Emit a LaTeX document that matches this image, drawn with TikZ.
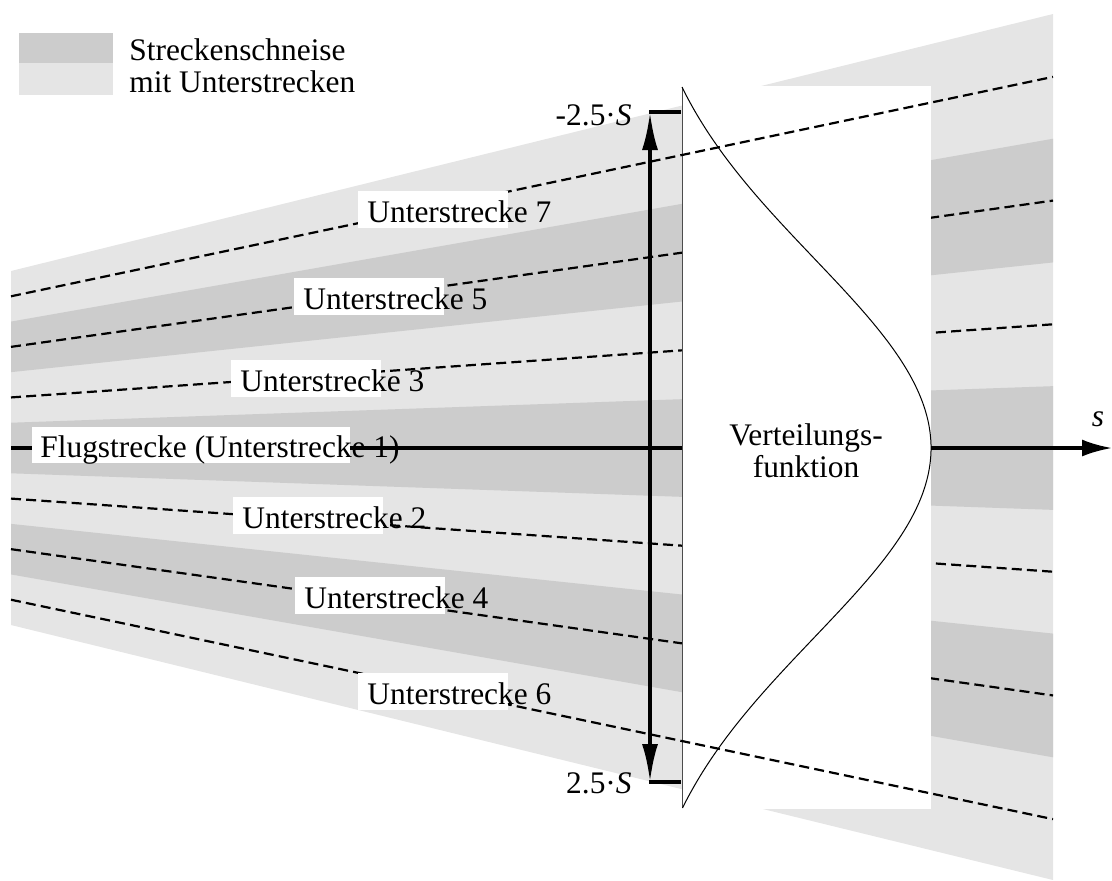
\documentclass[tikz,border=0pt]{standalone}
\usepackage{fontspec}
\setmainfont{Liberation Serif}
\usepackage{tikz}
\usetikzlibrary{arrows.meta}
\definecolor{bandlight}{RGB}{229,229,229}
\definecolor{banddark}{RGB}{204,204,204}

\begin{document}
\begin{tikzpicture}[x=0.5pt,y=-0.5pt,
    font=\fontsize{15.7}{16}\selectfont,
    sub/.style={line width=1.1pt, dash pattern=on 5pt off 2.6pt},
    lbl/.style={anchor=base west, inner sep=0pt},
    bigtip/.style={line width=2pt, {Latex[length=19pt,width=8pt]}-{Latex[length=19pt,width=8pt]}}]
    \useasboundingbox (0,0) rectangle (1112,880);
    \fill[bandlight] (11,271) -- (1053,14) -- (1053,880) -- (11,625) -- cycle;
    \foreach \k in {-2,0,2} {
        \fill[banddark] (11,{448+(2*\k-1)*177/7}) -- (1053,{448+(2*\k-1)*433/7})
            -- (1053,{448+(2*\k+1)*433/7}) -- (11,{448+(2*\k+1)*177/7}) -- cycle;
    }
    \foreach \j/\n in {-3/7,-2/5,-1/3,1/2,2/4,3/6} {
        \coordinate (l\n) at (11,{448+2*\j*177/7});
        \coordinate (r\n) at (1053,{448+2*\j*433/7});
    }
    \foreach \n in {5,3,2,4} { \draw[sub] (l\n) -- (r\n); }
    \coordinate (l1) at (11,448);
    \coordinate (send) at (1112,448);
    \draw[line width=1.6pt, -{Latex[length=15pt,width=8.5pt]}] (l1) -- (send);
    \coordinate (smin) at (650,112);
    \coordinate (smax) at (650,782);
    \draw[bigtip] (smin) -- (smax);
    \draw[line width=1.75pt] (649,112) -- (681,112);
    \draw[line width=1.75pt] (649,782) -- (681,782);
    \node[anchor=base east, inner sep=0pt] (stop) at (632,125) {-2.5·\textit{S}};
    \node[anchor=base east, inner sep=0pt] (sbot) at (632,793) {2.5·\textit{S}};
    \fill[white] (682,86) rectangle (931,809);
    \draw[black!70, line width=0.5pt] (682,87) -- (682,808);
    \draw[line width=0.5pt] plot[variable=\t, domain=-361:360, samples=120, smooth]
        ({682+298*(exp(-(\t/100)^2/7.22)-0.1645)}, {448+\t});
    \node[align=center, inner sep=0pt] (vf) at (806,451) {Verteilungs-\\funktion};
    \node[anchor=base, inner sep=0pt] (s) at (1098,426) {\textit{s}};
    \foreach \n in {7,6} { \draw[sub] (l\n) -- (r\n); }
    \foreach \bx/\by/\n in {358/191/7, 294/278/5, 231/360/3, 233/497/2, 295/577/4, 358/673/6} {
        \fill[white] (\bx,\by) rectangle ++(150,37);
        \node[lbl] (u\n) at (\bx+9,\by+31) {Unterstrecke \n};
    }
    \fill[white] (32,427) rectangle (350,463);
    \node[lbl] (u1) at (40,457) {Flugstrecke (Unterstrecke 1)};
    \fill[banddark] (19,33) rectangle (113,63);
    \fill[bandlight] (19,63) rectangle (113,95);
    \node[lbl] (leg1) at (129,60) {Streckenschneise};
    \node[lbl] (leg2) at (129,92) {mit Unterstrecken};
\end{tikzpicture}
\end{document}
